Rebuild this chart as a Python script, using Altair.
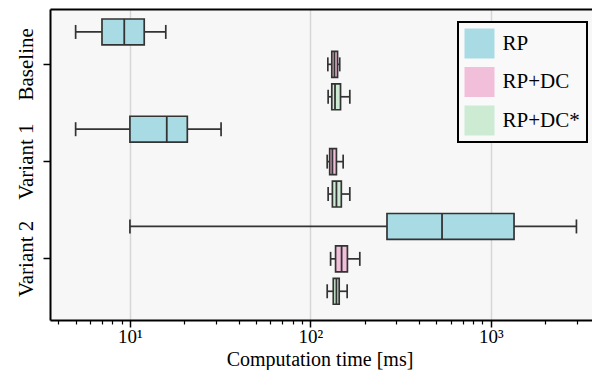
import altair as alt
import pandas as pd

# ---- data ----
categories = ["Baseline", "Variant 1", "Variant 2"]
methods = ["RP", "RP+DC", "RP+DC*"]
group_col = ["Baseline"] * 3 + ["Variant 1"] * 3 + ["Variant 2"] * 3
method_col = methods * 3
whisker_lo = [5.0, 125.0, 125.5, 5.0, 124.0, 125.5, 10.0, 129.5, 124.0]
q1_vals = [7.0, 131.5, 131.5, 10.0, 128.0, 132.5, 266.0, 138.0, 134.0]
median_vals = [9.3, 136.0, 137.0, 16.0, 132.5, 139.5, 537.0, 149.0, 139.5]
q3_vals = [12.0, 141.5, 147.0, 20.8, 139.5, 148.5, 1346.0, 160.5, 144.5]
whisker_hi = [15.8, 145.5, 165.5, 32.0, 152.0, 165.5, 2985.0, 188.0, 160.0]
major_ticks = [10, 100, 1000]
minor_ticks = [4, 5, 6, 7, 8, 9, 20, 30, 40, 50, 60, 70, 80, 90,
               200, 300, 400, 500, 600, 700, 800, 900, 2000, 3000]
colors = ["#a8dbe4", "#f2bfdb", "#cdebd3"]

df = pd.DataFrame({
    "group": group_col, "method": method_col,
    "lo": whisker_lo, "q1": q1_vals, "med": median_vals,
    "q3": q3_vals, "hi": whisker_hi,
})

FONT = "Liberation Serif"
EDGE = "#333333"

xscale = alt.Scale(type="log", domain=[3.605, 3641], nice=False)
yscale = alt.Scale(domain=categories, paddingInner=0, paddingOuter=0.099, align=0.35)
yoff_scale = alt.Scale(domain=methods, paddingInner=0.2, paddingOuter=0.1)

y_axis = alt.Axis(title=None, labelAngle=270, labelAlign="center",
                  labelBaseline="alphabetic", labelFont=FONT, labelFontSize=21,
                  labelColor="black", labelPadding=10.5, tickSize=7, tickWidth=1.5,
                  tickColor="black", domainColor="black", domainWidth=2, grid=False)

major_axis = alt.Axis(values=major_ticks, orient="bottom",
                      labelExpr="datum.value == 10 ? '10¹' : datum.value == 100 ? '10²' : '10³'",
                      labelFont=FONT, labelFontSize=19, labelColor="black",
                      labelBaseline="alphabetic", labelPadding=15,
                      tickSize=7, tickWidth=1.5, tickColor="black",
                      domainColor="black", domainWidth=2,
                      grid=True, gridColor="#d6d6d6", gridWidth=1.5,
                      title="Computation time [ms]", titleFont=FONT, titleFontSize=20,
                      titleFontWeight="normal", titleColor="black",
                      titleBaseline="alphabetic", titleY=45, titleX=269.5)

minor_axis = alt.Axis(values=minor_ticks, orient="bottom", labels=False, grid=False,
                      domain=False, title=None, tickSize=4, tickWidth=1.2,
                      tickColor="black")

top_axis = alt.Axis(orient="top", labels=False, ticks=False, grid=False, title=None,
                    domain=True, domainColor="black", domainWidth=2)

Y = alt.Y("group:N", scale=yscale, axis=y_axis)
YO = alt.YOffset("method:N", scale=yoff_scale)

base = alt.Chart(df)

whisk = base.mark_rule(color=EDGE, strokeWidth=1.7).encode(
    x=alt.X("lo:Q", scale=xscale, axis=major_axis), x2="hi:Q", y=Y, yOffset=YO)

box = base.mark_bar(stroke=EDGE, strokeWidth=1.7, opacity=1).encode(
    x=alt.X("q1:Q", scale=xscale, axis=minor_axis), x2="q3:Q", y=Y, yOffset=YO,
    color=alt.Color("method:N", scale=alt.Scale(domain=methods, range=colors),
                    legend=alt.Legend(title=None, orient="none", legendX=408, legendY=13,
                                      symbolType="square", symbolSize=900,
                                      symbolStrokeWidth=0, symbolOpacity=1,
                                      labelFont=FONT, labelFontSize=21, labelColor="black",
                                      labelOffset=8, rowPadding=8.5, padding=6.5,
                                      strokeColor="black", fillColor="#f9f9f9")))

med = base.mark_tick(color=EDGE, thickness=1.8, size=26, opacity=1).encode(
    x=alt.X("med:Q", scale=xscale, axis=top_axis), y=Y, yOffset=YO)

cap_lo = base.mark_tick(color=EDGE, thickness=1.7, size=14, opacity=1).encode(
    x=alt.X("lo:Q", scale=xscale, axis=None), y=Y, yOffset=YO)

cap_hi = base.mark_tick(color=EDGE, thickness=1.7, size=14, opacity=1).encode(
    x=alt.X("hi:Q", scale=xscale, axis=None), y=Y, yOffset=YO)

chart = alt.layer(whisk, box, med, cap_lo, cap_hi).resolve_axis(x="independent").properties(
    width=542, height=311,
    autosize=alt.AutoSizeParams(type="none"),
    padding={"left": 42, "top": 1, "right": 0, "bottom": 50},
).configure(background="white").configure_view(fill="#f7f7f7", stroke=None).configure_legend(
    strokeWidth=2, cornerRadius=0)

chart.save("out.html", embed_options={"renderer": "svg", "actions": False})
